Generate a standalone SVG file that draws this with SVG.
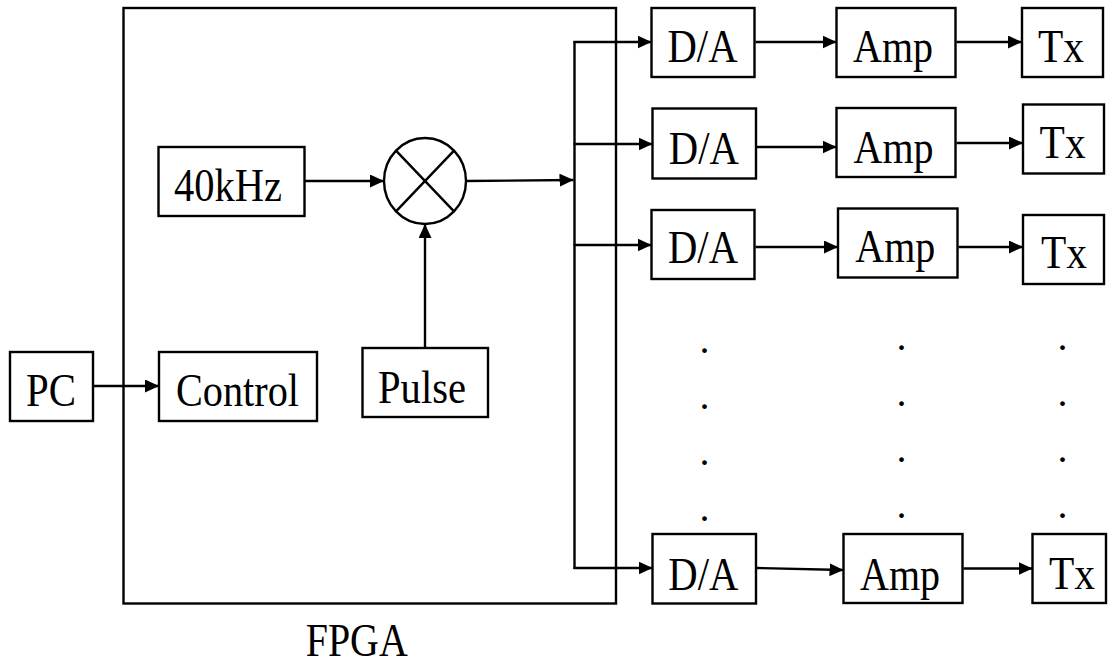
<svg xmlns="http://www.w3.org/2000/svg" width="1108" height="664" viewBox="0 0 1108 664">
<style>
.box{fill:#fff;stroke:#000;stroke-width:2.4}
.frame{fill:none;stroke:#000;stroke-width:2.4}
.lbl{font-family:"Liberation Serif","Times New Roman",Times,Tinos,"Nimbus Roman","Noto Serif","DejaVu Serif",FreeSerif,serif;font-size:46px;fill:#000;text-anchor:middle}
.dot{font-family:"Liberation Serif","Times New Roman",Times,Tinos,"DejaVu Serif",serif;font-size:40px;fill:#000;text-anchor:middle}
.ln{fill:none;stroke:#000;stroke-width:2.4}
.arr{fill:none;stroke:#000;stroke-width:2.4;marker-end:url(#ah)}
</style>
<defs>
<marker id="ah" markerUnits="userSpaceOnUse" markerWidth="14" markerHeight="13" refX="14" refY="6.5" orient="auto">
<path d="M0,0 L14,6.5 L0,13 z" fill="#000"/>
</marker>
</defs>
<rect width="1108" height="664" fill="#fff"/>
<g id="fpga">
<rect class="frame" x="123.5" y="8" width="492.5" height="595.5"/>
<text class="lbl" x="356.7" y="656" textLength="102" lengthAdjust="spacingAndGlyphs">FPGA</text>
</g>
<g id="pc"><rect class="box" x="10" y="352" width="83" height="69"/><text class="lbl" x="51" y="406" textLength="50" lengthAdjust="spacingAndGlyphs">PC</text></g>
<g id="control"><rect class="box" x="159" y="352" width="158" height="69"/><text class="lbl" x="237.5" y="406" textLength="123" lengthAdjust="spacingAndGlyphs">Control</text></g>
<g id="osc"><rect class="box" x="158.5" y="147" width="146" height="69"/><text class="lbl" x="228" y="200.7" textLength="108" lengthAdjust="spacingAndGlyphs">40kHz</text></g>
<g id="pulse"><rect class="box" x="362.5" y="348" width="125.5" height="69"/><text class="lbl" x="422" y="403.3" textLength="88" lengthAdjust="spacingAndGlyphs">Pulse</text></g>
<g id="mixer">
<ellipse class="box" cx="425" cy="181" rx="41" ry="43"/>
<line class="ln" x1="396" y1="150.6" x2="454" y2="211.4"/>
<line class="ln" x1="454" y1="150.6" x2="396" y2="211.4"/>
</g>
<g id="da1"><rect class="box" x="651.5" y="8" width="103" height="69"/><text class="lbl" x="702.5" y="62.3" textLength="70" lengthAdjust="spacingAndGlyphs">D/A</text></g>
<g id="amp1"><rect class="box" x="836.5" y="8" width="119" height="69"/><text class="lbl" x="893" y="62.3" textLength="80" lengthAdjust="spacingAndGlyphs">Amp</text></g>
<g id="tx1"><rect class="box" x="1022" y="8" width="81" height="69"/><text class="lbl" x="1061" y="62.3" textLength="46" lengthAdjust="spacingAndGlyphs">Tx</text></g>
<g id="da2"><rect class="box" x="652.5" y="108.5" width="103.5" height="70"/><text class="lbl" x="703.8" y="164" textLength="70" lengthAdjust="spacingAndGlyphs">D/A</text></g>
<g id="amp2"><rect class="box" x="836.5" y="108" width="119" height="69"/><text class="lbl" x="893.6" y="162.7" textLength="80" lengthAdjust="spacingAndGlyphs">Amp</text></g>
<g id="tx2"><rect class="box" x="1023" y="104.5" width="81" height="69"/><text class="lbl" x="1062.6" y="158.3" textLength="46" lengthAdjust="spacingAndGlyphs">Tx</text></g>
<g id="da3"><rect class="box" x="651.5" y="210" width="103" height="69"/><text class="lbl" x="703" y="263.3" textLength="70" lengthAdjust="spacingAndGlyphs">D/A</text></g>
<g id="amp3"><rect class="box" x="838" y="208.5" width="119.5" height="69"/><text class="lbl" x="895.3" y="262.3" textLength="80" lengthAdjust="spacingAndGlyphs">Amp</text></g>
<g id="tx3"><rect class="box" x="1023" y="215" width="81" height="69"/><text class="lbl" x="1064" y="268.3" textLength="46" lengthAdjust="spacingAndGlyphs">Tx</text></g>
<g id="da4"><rect class="box" x="652.5" y="534" width="103.5" height="69.5"/><text class="lbl" x="703.3" y="590" textLength="70" lengthAdjust="spacingAndGlyphs">D/A</text></g>
<g id="amp4"><rect class="box" x="843.5" y="534" width="119" height="69"/><text class="lbl" x="900" y="590" textLength="80" lengthAdjust="spacingAndGlyphs">Amp</text></g>
<g id="tx4"><rect class="box" x="1032.5" y="534" width="73.5" height="69"/><text class="lbl" x="1072" y="589" textLength="46" lengthAdjust="spacingAndGlyphs">Tx</text></g>
<g id="ellipsis">
<text class="dot" x="704.4" y="353">.</text><text class="dot" x="704.4" y="409">.</text><text class="dot" x="704.4" y="465">.</text><text class="dot" x="704.4" y="521">.</text>
<text class="dot" x="901.6" y="350">.</text><text class="dot" x="901.6" y="406">.</text><text class="dot" x="901.6" y="462">.</text><text class="dot" x="901.6" y="518">.</text>
<text class="dot" x="1062.4" y="350">.</text><text class="dot" x="1062.4" y="406">.</text><text class="dot" x="1062.4" y="462">.</text><text class="dot" x="1062.4" y="518">.</text>
</g>
<g id="connectors">
<line class="arr" x1="93" y1="386" x2="159" y2="386"/>
<line class="arr" x1="304.5" y1="181" x2="384" y2="181"/>
<line class="arr" x1="425" y1="348" x2="425" y2="224"/>
<line class="arr" x1="466" y1="181" x2="573.5" y2="180"/>
<line class="ln" x1="574.5" y1="41" x2="574.5" y2="569"/>
<line class="arr" x1="573.5" y1="42" x2="651.5" y2="42"/>
<line class="arr" x1="573.5" y1="144" x2="652.5" y2="144"/>
<line class="arr" x1="573.5" y1="245" x2="651.5" y2="245"/>
<line class="arr" x1="573.5" y1="568" x2="652.5" y2="568"/>
<line class="arr" x1="755.5" y1="42" x2="836.5" y2="42"/>
<line class="arr" x1="757" y1="147" x2="836.5" y2="147"/>
<line class="arr" x1="755.5" y1="247" x2="838" y2="247"/>
<line class="arr" x1="757" y1="568" x2="843.5" y2="570"/>
<line class="arr" x1="956.5" y1="42" x2="1022" y2="42"/>
<line class="arr" x1="956.5" y1="143" x2="1023" y2="143"/>
<line class="arr" x1="958.5" y1="247" x2="1023" y2="247"/>
<line class="arr" x1="963.5" y1="568.5" x2="1032.5" y2="568.5"/>
</g>
</svg>
